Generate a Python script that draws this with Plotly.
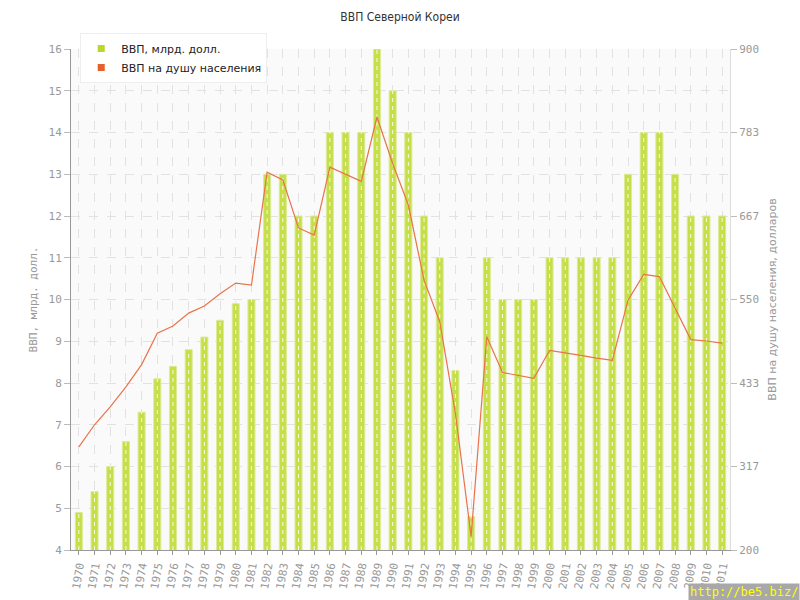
import plotly.graph_objects as go

years = [str(y) for y in range(1970, 2012)]
gdp_bn = [4.9, 5.4, 6.0, 6.6, 7.3, 8.1, 8.4, 8.8, 9.1, 9.5, 9.9, 10.0,
          13, 13, 12, 12, 14, 14, 14, 16, 15, 14, 12, 11, 8.3, 4.8,
          11, 10, 10, 10, 11, 11, 11, 11, 11, 13, 14, 14, 13, 12, 12, 12]
gdp_pc = [344, 375, 400, 428, 459, 503, 513, 531, 541, 558, 573, 570,
          728, 717, 650, 640, 735, 725, 715, 805, 740, 682, 577, 519, 391, 219,
          498, 448, 444, 440, 479, 476, 472, 468, 465, 549, 585, 582, 539, 494, 492, 489]
right_tickvals = [200, 316.67, 433.33, 550, 666.67, 783.33, 900]
right_ticktext = ["200", "317", "433", "550", "667", "783", "900"]

title = "ВВП Северной Кореи"
name_bar = "ВВП, млрд. долл."
name_line = "ВВП на душу населения"
y_title_left = "ВВП, млрд. долл."
y_title_right = "ВВП на душу населения, долларов"

green = "#c6df48"
orange = "#e9734a"
grid = "#e2e2e2"
tickfont = dict(family="DejaVu Sans Mono", size=11, color="#999999")

fig = go.Figure()
fig.add_trace(go.Bar(x=years, y=gdp_bn, name=name_bar, width=0.45, showlegend=False,
                     marker=dict(color=green, line=dict(color="#dbeb98", width=1)),
                     yaxis="y"))
# white dashed stripes over bars
sx, sy = [], []
for x, v in zip(years, gdp_bn):
    sx += [x, x, None]
    sy += [4, v, None]
fig.add_trace(go.Scatter(x=sx, y=sy, mode="lines", showlegend=False, hoverinfo="skip",
                         line=dict(color="rgba(255,255,255,0.85)", width=1, dash="4px,4px"),
                         yaxis="y"))
fig.add_trace(go.Scatter(x=years, y=gdp_pc, mode="lines", name=name_line, showlegend=False,
                         line=dict(color=orange, width=1.2), yaxis="y2"))
# legend entries
fig.add_trace(go.Scatter(x=[None], y=[None], mode="markers", name=name_bar,
                         marker=dict(symbol="square", size=7, color="#b8d82c")))
fig.add_trace(go.Scatter(x=[None], y=[None], mode="markers", name=name_line,
                         marker=dict(symbol="square", size=7, color="#e5602c")))

fig.update_layout(
    width=800, height=600,
    margin=dict(l=71, r=70, t=49, b=50, autoexpand=False),
    paper_bgcolor="white", plot_bgcolor="#fafafa",
    title=dict(text=title, x=0.5, xanchor="center", y=0.972, yanchor="middle",
               font=dict(family="DejaVu Sans Condensed, DejaVu Sans", size=12, color="#333333")),
    font=dict(family="DejaVu Sans", size=11, color="#333"),
    bargap=0.5,
    legend=dict(x=0.014, y=1.032, xanchor="left", yanchor="top", bgcolor="white",
                bordercolor="#eeeeee", borderwidth=1, font=dict(size=11, color="#222"),
                itemsizing="trace", tracegroupgap=0, itemwidth=30),
    xaxis=dict(type="category", range=[-0.5, 41.5], tickangle=-80, tickfont=tickfont,
               showgrid=True, gridcolor=grid, griddash="dash", gridwidth=1, automargin=False,
               showline=True, linecolor="#999999", ticks="outside", ticklen=4, tickcolor="#999999",
               mirror=False),
    yaxis=dict(range=[4, 16], dtick=1, tickfont=tickfont, showgrid=True, gridcolor=grid,
               griddash="dash", showline=True, linecolor="#999999", linewidth=1, automargin=False,
               ticks="outside", ticklen=6, tickcolor="#bbbbbb", zeroline=False,
               title=dict(text=y_title_left, font=dict(family="DejaVu Sans Mono", size=11, color="#999999"), standoff=8)),
    yaxis2=dict(range=[200, 900], overlaying="y", side="right", tickvals=right_tickvals,
                ticktext=right_ticktext, tickfont=tickfont, showgrid=False, showline=True,
                linecolor="#dddddd", ticks="outside", ticklen=6, tickcolor="#bbbbbb", zeroline=False,
                automargin=False,
                title=dict(text=y_title_right, font=dict(family="DejaVu Sans", size=11, color="#999999"), standoff=10)),
    annotations=[dict(text="http://be5.biz/", xref="paper", yref="paper", x=1.106, y=-0.084,
                      xanchor="right", yanchor="middle", showarrow=False, bgcolor="#a8a8a8",
                      font=dict(family="DejaVu Sans Mono", size=12, color="#ffff00"), borderpad=1)],
)

fig.write_html("out.html", config={"displayModeBar": False},
               post_script="document.body.style.margin='0';document.body.style.overflow='hidden';")
